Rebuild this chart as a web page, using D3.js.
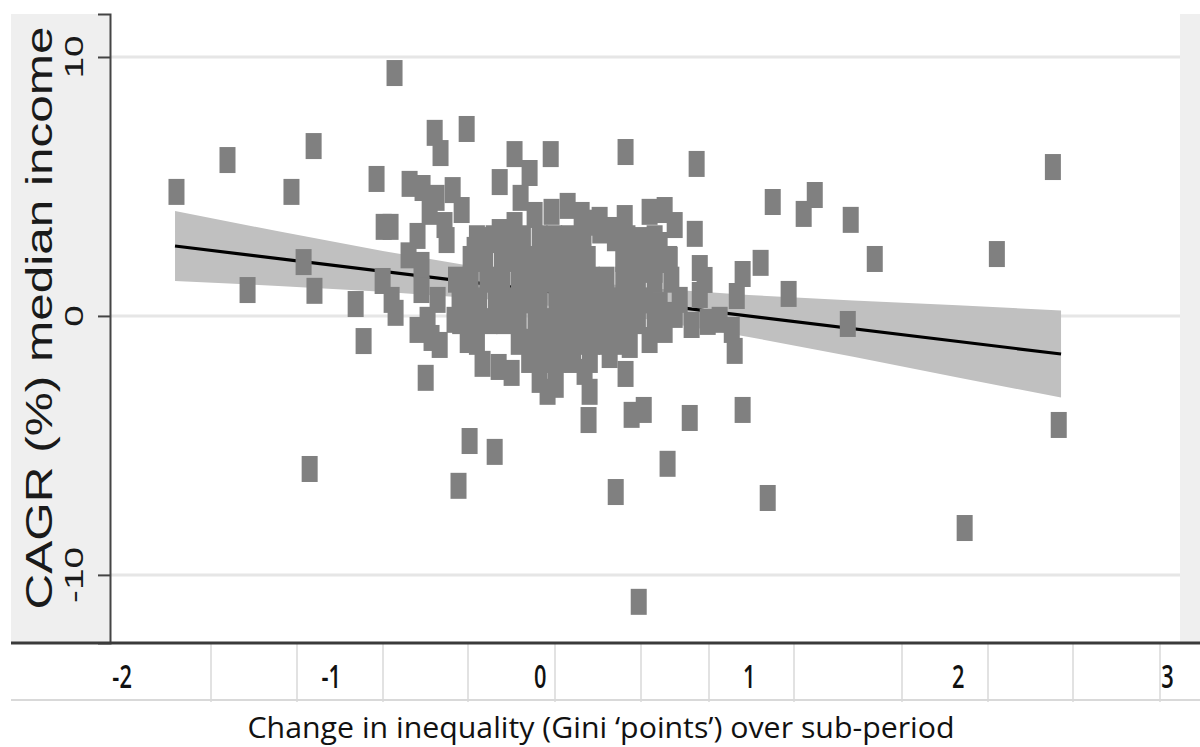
<!DOCTYPE html>
<html><head><meta charset="utf-8">
<script src="https://cdn.jsdelivr.net/npm/d3@7"></script>
<style>body{margin:0;background:#fff} svg{display:block}</style>
</head><body>
<svg id="chart" width="1200" height="747"></svg>
<script>
// ---------------- data ----------------
const xTickValues = [-2, -1, 0, 1, 2, 3];
const yTickValues = [-10, 0, 10];
const xTitle = "Change in inequality (Gini \u2018points\u2019) over sub-period";
const yTitle = "CAGR (%) median income";

// scattered observations [change in Gini, CAGR %]
const outerPoints = [
  [-1.737, 4.79], [-1.493, 6.02], [-1.397, 1.00], [-1.187, 4.79], [-1.129, 2.08],
  [-1.081, 6.56], [-1.077, 0.97], [-1.100, -5.91], [-0.880, 0.46], [-0.842, -0.97],
  [-0.780, 5.29], [-0.746, 3.44], [-0.713, 3.44], [-0.694, 9.38], [-0.751, 1.35],
  [-0.708, 0.62], [-0.689, 0.12], [-0.622, 5.10], [-0.560, 4.94], [-0.502, 7.07],
  [-0.474, 6.29], [-0.349, 7.22], [-0.545, -2.39], [-0.335, -4.83], [-0.388, -6.56],
  [-0.215, -5.25], [-0.191, 5.17], [-0.120, 6.25], [-0.048, 5.52], [0.053, 6.25],
  [-0.091, 4.56], [0.411, 6.33], [0.751, 5.87], [0.234, -4.02], [0.364, -6.80],
  [0.411, -2.24], [0.440, -3.82], [0.498, -3.63], [0.612, -5.71], [0.718, -3.94],
  [0.474, -11.04], [0.971, -3.63], [1.091, -7.03], [2.033, -8.19], [2.483, -4.21],
  [2.455, 5.75], [2.187, 2.39], [1.603, 2.20], [1.488, 3.71], [1.474, -0.31],
  [1.316, 4.67], [1.263, 3.94], [1.115, 4.40], [1.191, 0.85], [1.057, 2.05],
  [0.971, 1.62], [0.943, 0.77], [0.933, -1.35], [0.919, -0.54], [0.861, -0.15],
  [0.804, -0.23], [0.766, 1.85], [0.789, 1.39], [0.742, 3.17], [0.766, 0.81],
  [0.727, -0.35]
];
const clusterPoints = [
  [-0.627, 2.34], [-0.584, 3.09], [-0.565, 1.97], [-0.565, 1.00], [-0.526, 4.02],
  [-0.493, 4.56], [-0.455, 3.51], [-0.416, 4.86], [-0.373, 4.09], [-0.445, 2.93],
  [-0.536, -0.15], [-0.517, -0.85], [-0.584, -0.54], [-0.478, -1.12], [-0.488, 0.62],
  [-0.407, -0.15], [-0.344, -0.93], [-0.383, 0.62], [-0.273, -1.85], [-0.196, -1.97],
  [-0.134, -2.20], [0.000, -2.47], [0.077, -2.66], [0.038, -2.93], [0.215, -2.16],
  [0.239, -2.93], [0.335, -1.51], [0.431, -1.12], [0.526, -0.93], [0.598, -0.54],
  [0.646, 0.04], [0.670, 0.62], [0.574, 0.42], [-0.311, 2.55], [-0.249, 2.93],
  [-0.191, 3.24], [-0.120, 3.51], [-0.024, 3.90], [0.057, 4.02], [0.134, 4.25],
  [0.201, 3.90], [0.287, 3.71], [0.359, 3.32], [0.407, 3.78], [0.478, 2.93],
  [0.526, 4.02], [0.598, 4.09], [0.646, 3.51], [0.574, 2.74], [0.550, 1.78],
  [0.622, 2.16], [0.478, 1.78], [0.29, 3.30], [0.36, 3.00], [0.23, 2.20],
  [0.40, 2.20], [0.25, 3.60]
];
const densePoints = [
  [-0.30, 3.0], [-0.22, 3.0], [-0.15, 3.0], [-0.08, 3.0], [0.00, 3.0], [0.07, 3.0], [0.14, 3.0], [0.21, 3.0], [0.42, 3.0], [0.55, 3.0],
  [-0.33, 2.2], [-0.26, 2.2], [-0.18, 2.2], [-0.11, 2.2], [-0.04, 2.2], [0.03, 2.2], [0.10, 2.2], [0.17, 2.2], [0.45, 2.2], [0.52, 2.2], [0.62, 2.2],
  [-0.40, 1.4], [-0.33, 1.4], [-0.25, 1.4], [-0.18, 1.4], [-0.10, 1.4], [-0.03, 1.4], [0.04, 1.4], [0.11, 1.4], [0.18, 1.4], [0.25, 1.4], [0.32, 1.4], [0.40, 1.4], [0.47, 1.4], [0.55, 1.4], [0.63, 1.4],
  [-0.36, 0.6], [-0.29, 0.6], [-0.21, 0.6], [-0.14, 0.6], [-0.07, 0.6], [0.00, 0.6], [0.08, 0.6], [0.15, 0.6], [0.22, 0.6], [0.29, 0.6], [0.36, 0.6], [0.43, 0.6], [0.50, 0.6],
  [-0.38, -0.2], [-0.31, -0.2], [-0.24, -0.2], [-0.17, -0.2], [-0.10, -0.2], [-0.02, -0.2], [0.05, -0.2], [0.12, -0.2], [0.19, -0.2], [0.26, -0.2], [0.33, -0.2], [0.40, -0.2], [0.47, -0.2], [0.55, -0.2],
  [-0.30, -1.0], [-0.10, -1.0], [-0.03, -1.0], [0.04, -1.0], [0.11, -1.0], [0.18, -1.0], [0.25, -1.0], [0.32, -1.0], [0.39, -1.0],
  [-0.05, -1.7], [0.02, -1.7], [0.09, -1.7], [0.16, -1.7], [0.24, -1.7]
];

// fitted line and confidence band
const fitX = [-1.744, 2.494];
const fitY = [2.70, -1.47];
const bandX     = [-1.744, -1.25, -0.75, -0.25, 0.10, 0.50, 1.00, 1.50, 2.00, 2.494];
const bandUpper = [4.05, 3.27, 2.51, 1.82, 1.43, 1.09, 0.81, 0.60, 0.41, 0.21];
const bandLower = [1.35, 1.16, 0.93, 0.64, 0.35, -0.11, -0.81, -1.58, -2.38, -3.15];

// ---------------- layout ----------------
const svg = d3.select("#chart");
const plotL = 110, plotR = 1180, plotT = 14, plotB = 643;
const fmt = d => String(d);   // plain hyphen-minus like the original

const x = d3.scaleLinear().domain([-2.055, 3.063]).range([plotL, plotR]);
const y = d3.scaleLinear().domain([-12.63, 11.66]).range([plotB, plotT]);

// outer gray graph region
svg.append("rect").attr("x", 11).attr("y", plotT).attr("width", 1200 - 11).attr("height", plotB - plotT)
  .attr("fill", "#efefef");
// white plot region
svg.append("rect").attr("x", plotL).attr("y", plotT).attr("width", plotR - plotL).attr("height", plotB - plotT)
  .attr("fill", "#ffffff");

// gridlines
svg.append("g").selectAll("line").data(yTickValues).join("line")
  .attr("x1", plotL).attr("x2", plotR)
  .attr("y1", d => y(d)).attr("y2", d => y(d))
  .attr("stroke", "#e6e6e6").attr("stroke-width", 3);

// confidence band
const band = bandX.map((v, i) => ({x: v, lo: bandLower[i], hi: bandUpper[i]}));
svg.append("path").datum(band)
  .attr("d", d3.area().x(d => x(d.x)).y0(d => y(d.lo)).y1(d => y(d.hi)))
  .attr("fill", "#c0c0c0");

// fitted line
svg.append("path").datum(fitX.map((v, i) => [v, fitY[i]]))
  .attr("d", d3.line().x(d => x(d[0])).y(d => y(d[1])))
  .attr("stroke", "#000").attr("stroke-width", 3.2).attr("fill", "none");

// markers
const mw = 16, mh = 26;
const allPoints = outerPoints.concat(clusterPoints, densePoints);
svg.append("g").selectAll("rect").data(allPoints).join("rect")
  .attr("x", d => x(d[0]) - mw / 2).attr("y", d => y(d[1]) - mh / 2)
  .attr("width", mw).attr("height", mh)
  .attr("fill", "#808080");

// y axis
const yAxis = svg.append("g").attr("transform", `translate(${plotL},0)`)
  .call(d3.axisLeft(y).tickValues(yTickValues).tickSize(12).tickFormat(fmt));
yAxis.select(".domain").attr("stroke", "#444").attr("stroke-width", 2);
yAxis.selectAll(".tick line").attr("stroke", "#444").attr("stroke-width", 2);
yAxis.selectAll(".tick text").remove();
svg.append("g").selectAll("text").data(yTickValues).join("text")
  .attr("transform", d => `translate(83,${y(d)}) rotate(-90) scale(1.55,1)`)
  .attr("text-anchor", "middle")
  .attr("font-family", "'Liberation Sans', Arial, sans-serif")
  .attr("font-size", 25).attr("fill", "#1a1a1a")
  .text(fmt);

// y title
svg.append("text")
  .attr("transform", `translate(52,${318}) rotate(-90)`)
  .attr("text-anchor", "middle")
  .attr("font-family", "'Liberation Sans', Arial, sans-serif")
  .attr("font-size", 36).attr("fill", "#1a1a1a")
  .attr("textLength", 583).attr("lengthAdjust", "spacingAndGlyphs")
  .text(yTitle);

// spreadsheet-style axis row
const cellLines = [211, 297, 383, 468, 555, 641, 709, 794, 902, 988, 1073, 1160];
svg.append("g").selectAll("line").data(cellLines).join("line")
  .attr("x1", d => d).attr("x2", d => d).attr("y1", plotB).attr("y2", 702)
  .attr("stroke", "#d9d9d9").attr("stroke-width", 1.5);
svg.append("line").attr("x1", 11).attr("x2", 1200).attr("y1", 700).attr("y2", 700)
  .attr("stroke", "#d9d9d9").attr("stroke-width", 2);
svg.append("line").attr("x1", 11).attr("x2", 1200).attr("y1", plotB).attr("y2", plotB)
  .attr("stroke", "#3a3a3a").attr("stroke-width", 3);

const xScaleLabels = d3.scaleLinear().domain([-2, 3]).range([121.6, 1166.9]);
const xAxis = svg.append("g").attr("transform", "translate(0,650)")
  .call(d3.axisBottom(xScaleLabels).tickValues(xTickValues).tickSize(0).tickFormat(fmt));
xAxis.select(".domain").remove();
xAxis.selectAll(".tick text")
  .attr("y", 0).attr("dy", 0).attr("x", 0)
  .attr("transform", "translate(0,38) scale(0.66,1)")
  .attr("text-anchor", "middle")
  .attr("font-family", "'Open Sans', sans-serif").attr("font-weight", 600)
  .attr("font-size", 33).attr("fill", "#111");

// x title
svg.append("text")
  .attr("x", 601).attr("y", 738)
  .attr("text-anchor", "middle")
  .attr("font-family", "'Open Sans', sans-serif")
  .attr("font-size", 30).attr("fill", "#111")
  .attr("textLength", 707).attr("lengthAdjust", "spacingAndGlyphs")
  .text(xTitle);
</script>
</body></html>
